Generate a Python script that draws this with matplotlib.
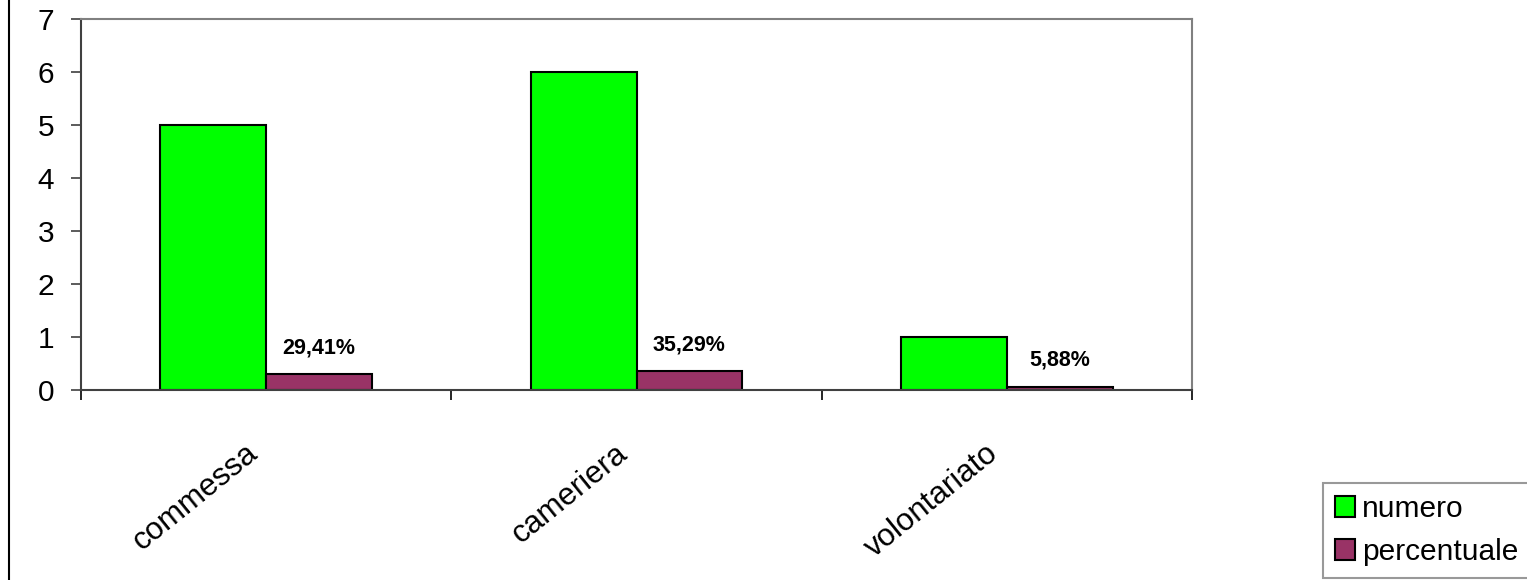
import matplotlib
matplotlib.use("Agg")
import matplotlib.pyplot as plt
import numpy as np
from matplotlib.lines import Line2D
from matplotlib.transforms import ScaledTranslation

categories = ["commessa", "cameriera", "volontariato"]
numero = [5, 6, 1]
percentuale = [0.2941, 0.3529, 0.0588]
pct_labels = ["29,41%", "35,29%", "5,88%"]
series_names = ["numero", "percentuale"]
yticks = [0, 1, 2, 3, 4, 5, 6, 7]

plt.rcParams['font.family'] = ['Liberation Sans', 'DejaVu Sans']

fig = plt.figure(figsize=(15.27, 5.8), dpi=100)
ax = fig.add_axes([81/1527, 1-390/580, (1192-81)/1527, (390-19)/580])

x = np.arange(len(categories))
w = 0.286
b1 = ax.bar(x - w/2, numero, w, color='#00FF00', edgecolor='black', linewidth=1.5, label=series_names[0])
b2 = ax.bar(x + w/2, percentuale, w, color='#993366', edgecolor='black', linewidth=1.5, label=series_names[1])

for xi, v, lab in zip(x, percentuale, pct_labels):
    ax.annotate(lab, (xi + w/2, v), xytext=(0, 19), textcoords='offset points',
                ha='center', va='center', fontsize=15.5, fontweight='bold')

ax.set_xlim(-0.5, 2.5)
ax.set_ylim(0, 7)
ax.set_yticks(yticks)
ax.tick_params(axis='y', direction='out', length=7.2, width=1.2, color='#404040',
               labelsize=21.5, pad=12)
ax.set_xticks(x)
ax.set_xticklabels(categories, rotation=39, ha='right', va='center',
                   rotation_mode='anchor', fontsize=22.5)
ax.tick_params(axis='x', which='major', length=0, pad=43)
shift = ScaledTranslation(-12/100, 0, fig.dpi_scale_trans)
for lbl in ax.get_xticklabels():
    lbl.set_transform(lbl.get_transform() + shift)
ax.set_xticks([-0.5, 0.5, 1.5, 2.5], minor=True)
ax.tick_params(axis='x', which='minor', direction='out', length=7.2, width=1.2, color='#000000')

ax.spines['top'].set_color('#808080')
ax.spines['right'].set_color('#808080')
ax.spines['left'].set_color('#404040')
ax.spines['bottom'].set_color('#404040')
for s in ax.spines.values():
    s.set_linewidth(1.5)

fig.add_artist(Line2D([9/1527, 9/1527], [0, 1], transform=fig.transFigure, color='black', linewidth=1.5))

leg = fig.legend(handles=[b1, b2], loc='lower left', bbox_to_anchor=(1323/1527, 2/580),
                 fontsize=21.5, frameon=True, fancybox=False, edgecolor='#808080',
                 handlelength=0.67, handleheight=0.67, handletextpad=0.25, labelspacing=0.5,
                 borderpad=0.4, borderaxespad=0)
leg.get_frame().set_linewidth(1.5)

fig.savefig("out.png", dpi=100)
